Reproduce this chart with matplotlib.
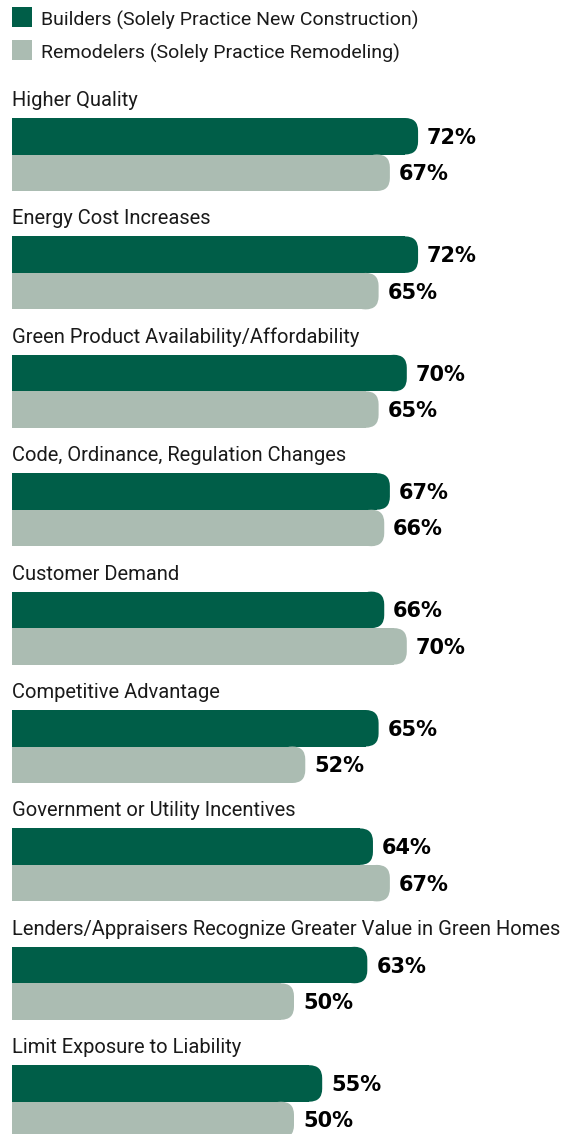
import matplotlib
matplotlib.use("Agg")
import matplotlib.pyplot as plt
from matplotlib.patches import FancyBboxPatch, Rectangle
from matplotlib import font_manager

categories = [
    "Higher Quality",
    "Energy Cost Increases",
    "Green Product Availability/Affordability",
    "Code, Ordinance, Regulation Changes",
    "Customer Demand",
    "Competitive Advantage",
    "Government or Utility Incentives",
    "Lenders/Appraisers Recognize Greater Value in Green Homes",
    "Limit Exposure to Liability",
]
builders = [72, 72, 70, 67, 66, 65, 64, 63, 55]
remodelers = [67, 65, 65, 66, 70, 52, 67, 50, 50]
series_names = ["Builders (Solely Practice New Construction)",
                "Remodelers (Solely Practice Remodeling)"]

GREEN = "#005e48"
GRAY = "#abbcb2"
TEXT = "#1a1a1a"

names = {f.name for f in font_manager.fontManager.ttflist}
label_font = "Roboto" if "Roboto" in names else "Liberation Sans"
value_font = "DejaVu Sans"

W, H = 575, 1134
fig = plt.figure(figsize=(W / 100, H / 100), dpi=100)
ax = fig.add_axes([0, 0, 1, 1])
PX = 5.64  # pixels per percent
x0 = 12
ax.set_xlim(-x0 / PX, (W - x0) / PX)
ax.set_ylim(H, 0)
ax.axis("off")

r_px = 13
rx = r_px / PX

step = 118.4
first_top = 118
bh = 36.5

def rounded_bar(y, v, color):
    ax.barh(y, v - rx, height=bh, left=0, color=color, linewidth=0)
    p = FancyBboxPatch((v - 2 * rx, y - bh / 2), 2 * rx, bh,
                       boxstyle=f"round,pad=0,rounding_size={rx}",
                       mutation_aspect=PX, facecolor=color, edgecolor="none",
                       linewidth=0)
    ax.add_patch(p)

for i, (cat, b, r) in enumerate(zip(categories, builders, remodelers)):
    top = first_top + step * i
    yb = top + bh / 2
    yr = top + bh * 1.5
    rounded_bar(yb, b, GREEN)
    rounded_bar(yr, r, GRAY)
    ax.text(0, top - 12, cat, fontsize=14.5, family=label_font, color=TEXT,
            ha="left", va="baseline")
    for v, y in ((b, yb), (r, yr)):
        ax.text(v + 9 / PX, y + 1.5, f"{v}%", fontsize=15, family=value_font,
                fontweight="bold", color="black", ha="left", va="center")

# legend
for j, (name, col) in enumerate(zip(series_names, [GREEN, GRAY])):
    ytop = 7 + 33 * j
    ax.add_patch(Rectangle((0, ytop), 20 / PX, 20, facecolor=col,
                           edgecolor="none"))
    ax.text(29 / PX, ytop + 19, name, fontsize=14, family=label_font,
            color=TEXT, ha="left", va="baseline")

fig.savefig("out.png", dpi=100)
